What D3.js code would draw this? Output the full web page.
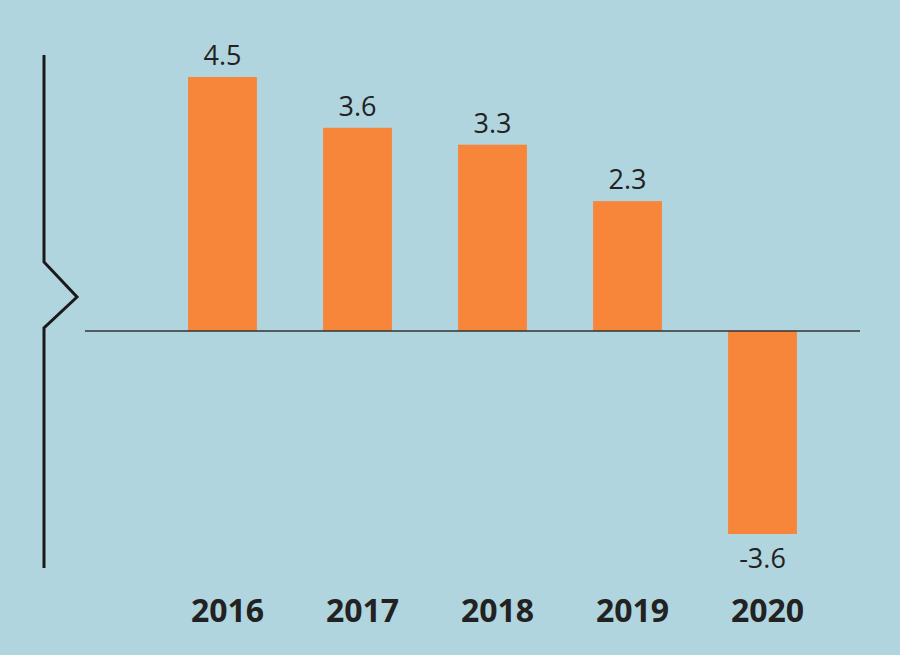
<!DOCTYPE html>
<html lang="en">
<head>
  <meta charset="UTF-8" />
  <script src="https://d3js.org/d3.v7.min.js"></script>
  <style>
    body { margin: 0; padding: 0; background-color: #b0d5de; }
    svg { display: block; font-family: "Open Sans", sans-serif; }
  </style>
</head>
<body>
  <svg width="900" height="655"></svg>
  <script>
    const data = [
      { year: "2016", value: 4.5 },
      { year: "2017", value: 3.6 },
      { year: "2018", value: 3.3 },
      { year: "2019", value: 2.3 },
      { year: "2020", value: -3.6 }
    ];

    const svg = d3.select("svg");

    const x = d3.scaleBand()
      .domain(data.map(d => d.year))
      .range([155, 830])
      .paddingInner(0.49)
      .paddingOuter(0.245);

    const y = d3.scaleLinear()
      .domain([-3.6, 4.5])
      .range([534, 77]);

    // broken axis on the left
    const axisPts = [[44, 55], [44, 262], [77, 297], [44, 328], [44, 568]];
    svg.append("path")
      .attr("d", d3.line()(axisPts))
      .attr("fill", "none")
      .attr("stroke", "#1a1a1a")
      .attr("stroke-width", 3);

    svg.selectAll("rect")
      .data(data)
      .enter().append("rect")
      .attr("x", d => x(d.year))
      .attr("width", x.bandwidth())
      .attr("y", d => y(Math.max(0, d.value)))
      .attr("height", d => Math.abs(y(d.value) - y(0)))
      .attr("fill", "#f7863a");

    svg.append("line")
      .attr("x1", 85).attr("x2", 860)
      .attr("y1", y(0)).attr("y2", y(0))
      .attr("stroke", "#333").attr("stroke-width", 1.5);

    svg.selectAll(".val")
      .data(data)
      .enter().append("text")
      .attr("class", "val")
      .attr("x", d => x(d.year) + x.bandwidth() / 2)
      .attr("y", d => d.value >= 0 ? y(d.value) - 12 : y(d.value) + 34)
      .attr("text-anchor", "middle")
      .attr("font-size", 27)
      .attr("fill", "#222")
      .text(d => d.value);

    svg.selectAll(".yr")
      .data(data)
      .enter().append("text")
      .attr("class", "yr")
      .attr("x", d => x(d.year) + x.bandwidth() / 2 + 5)
      .attr("y", 622)
      .attr("text-anchor", "middle")
      .attr("font-size", 32)
      .attr("font-weight", "bold")
      .attr("fill", "#222")
      .text(d => d.year);
  </script>
</body>
</html>
